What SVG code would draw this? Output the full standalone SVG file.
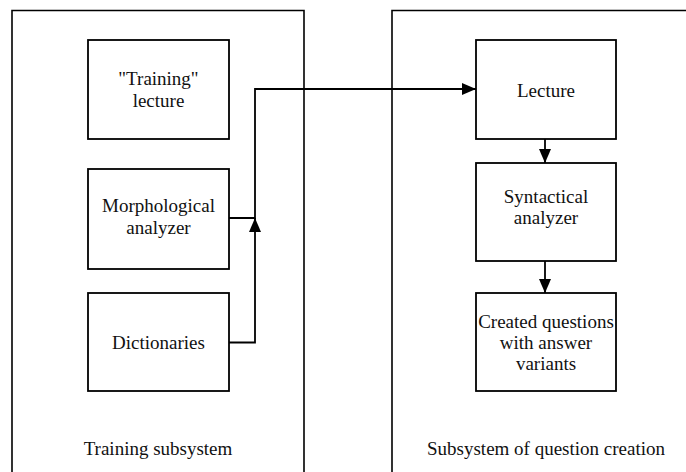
<svg xmlns="http://www.w3.org/2000/svg" width="686" height="472" viewBox="0 0 686 472">
<style>
.frame{fill:none;stroke:#000;stroke-width:1.6}
.box{fill:#fff;stroke:#000;stroke-width:1.8}
.c{fill:none;stroke:#000;stroke-width:1.8}
</style>
<defs>
<marker id="ah" viewBox="0 0 14 12" refX="14" refY="6" markerWidth="14" markerHeight="12" markerUnits="userSpaceOnUse" orient="auto">
<path d="M0,0 L14,6 L0,12 Z" fill="#000"/>
</marker>
</defs>
<rect width="686" height="472" fill="#fff"/>
<g font-family="Liberation Serif, DejaVu Serif, serif" font-size="19" fill="#111" text-anchor="middle">
<g id="training-subsystem">
<path class="frame" d="M12,473 V10.5 H304 V473"/>
<text x="158" y="455">Training subsystem</text>
</g>
<g id="question-subsystem">
<path class="frame" d="M392,473 V10.5 H687"/>
<text x="546" y="455">Subsystem of question creation</text>
</g>
<g id="training-lecture">
<rect class="box" x="88" y="40" width="141" height="99"/>
<text x="158.5" y="85">"Training"</text>
<text x="158.5" y="107">lecture</text>
</g>
<g id="morphological">
<rect class="box" x="88" y="169" width="141" height="100"/>
<text x="158.5" y="212">Morphological</text>
<text x="158.5" y="234">analyzer</text>
</g>
<g id="dictionaries">
<rect class="box" x="88" y="293" width="141" height="98"/>
<text x="158.5" y="349">Dictionaries</text>
</g>
<g id="lecture">
<rect class="box" x="476" y="40" width="140" height="99"/>
<text x="546" y="97">Lecture</text>
</g>
<g id="syntactical">
<rect class="box" x="476" y="163" width="140" height="98"/>
<text x="546" y="203">Syntactical</text>
<text x="546" y="224">analyzer</text>
</g>
<g id="created-questions">
<rect class="box" x="476" y="293" width="140" height="98"/>
<text x="546" y="328">Created questions</text>
<text x="546" y="349">with answer</text>
<text x="546" y="370">variants</text>
</g>
</g>
<g id="connectors">
<path class="c" d="M229,218 H255 V89 H476" marker-end="url(#ah)"/>
<path class="c" d="M229,342.5 H255 V218" marker-end="url(#ah)"/>
<path class="c" d="M545,139 V163" marker-end="url(#ah)"/>
<path class="c" d="M545,261 V293" marker-end="url(#ah)"/>
</g>
</svg>
